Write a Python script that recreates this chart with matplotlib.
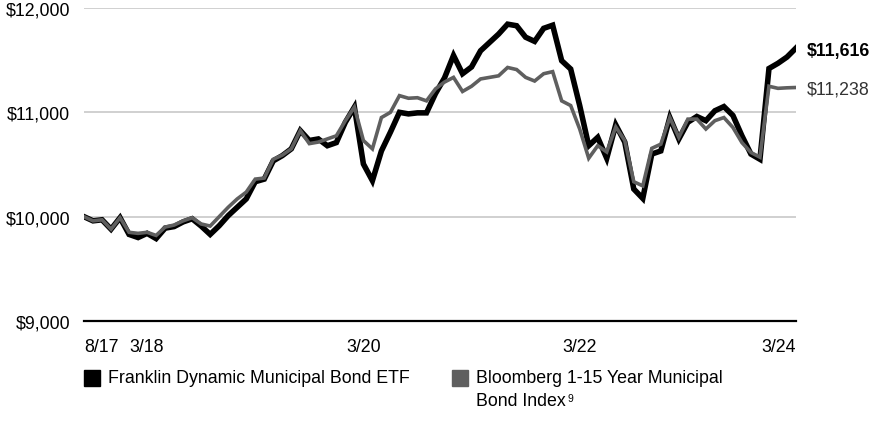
import matplotlib.pyplot as plt
from matplotlib.patches import Rectangle

# monthly growth of $10,000, 8/17 through 3/24
fund = [
    10000, 9960, 9970, 9880, 9990, 9830, 9800, 9840, 9790, 9890,
    9905, 9950, 9980, 9910, 9830, 9913, 10010, 10090, 10170, 10335,
    10360, 10535, 10585, 10650, 10825, 10730, 10745, 10680, 10710, 10905,
    11050, 10505, 10345, 10630, 10810, 11000, 10985, 10995, 10995, 11180,
    11330, 11545, 11370, 11435, 11590, 11670, 11750, 11845, 11830, 11720,
    11680, 11805, 11835, 11495, 11415, 11065, 10680, 10760, 10560, 10880,
    10715, 10265, 10175, 10600, 10630, 10950, 10745, 10905, 10960, 10920,
    11015, 11055, 10970, 10775, 10600, 10550, 11420, 11470, 11530, 11616,
]
index = [
    10000, 9960, 9970, 9880, 9990, 9850, 9840, 9850, 9820, 9900,
    9920, 9960, 9990, 9930, 9910, 10000, 10090, 10170, 10235, 10360,
    10370, 10550, 10590, 10650, 10825, 10700, 10715, 10745, 10775, 10920,
    11050, 10730, 10650, 10950, 11000, 11160, 11135, 11140, 11110, 11225,
    11290, 11335, 11200, 11250, 11320, 11335, 11350, 11430, 11410, 11335,
    11300, 11370, 11390, 11110, 11065, 10840, 10560, 10680, 10620, 10860,
    10730, 10335, 10295, 10655, 10695, 10950, 10760, 10935, 10935, 10840,
    10920, 10950, 10855, 10710, 10615, 10570, 11250, 11230, 11235, 11238,
]
tick_pos = [0, 7, 31, 55, 79]
tick_labels = ["8/17", "3/18", "3/20", "3/22", "3/24"]
y_ticks = [9000, 10000, 11000, 12000]
fund_name = "Franklin Dynamic Municipal Bond ETF"
index_name = "Bloomberg 1-15 Year Municipal\nBond Index"

FUND_C = "#000000"
INDEX_C = "#5f5f5f"
W, H = 876, 427
FS = 12.8

plt.rcParams['font.family'] = ['Liberation Sans', 'DejaVu Sans']

fig = plt.figure(figsize=(W / 100, H / 100), dpi=100)
ax = fig.add_axes([84 / W, 1 - 322 / H, (796 - 84) / W, (322 - 9) / H])

x = list(range(len(fund)))
ax.plot(x, fund, color=FUND_C, lw=4.0, solid_joinstyle='miter', zorder=3)
ax.plot(x, index, color=INDEX_C, lw=2.6, solid_joinstyle='miter', zorder=4)

ax.set_xlim(0, len(fund) - 1)
ax.set_ylim(9000, 12000)
for y in y_ticks[1:]:
    ax.axhline(y, color='#c8c8c8', lw=1.2, zorder=1)
ax.axhline(9000, color='black', lw=1.6, zorder=2, clip_on=False)

for s in ax.spines.values():
    s.set_visible(False)

ax.set_yticks(y_ticks)
ax.set_yticklabels([f"${v:,}" for v in y_ticks], fontsize=FS)
ax.set_xticks(tick_pos)
ax.set_xticklabels(tick_labels, fontsize=FS)
ax.tick_params(length=0)
ax.tick_params(axis='y', pad=10)
ax.tick_params(axis='x', pad=12)
xl = ax.get_xticklabels()
xl[0].set_ha('left')
xl[-1].set_ha('right')

# ending values
ax.annotate(f"${fund[-1]:,}", xy=(x[-1], fund[-1]), xytext=(8, -2),
            textcoords='offset points', va='center', ha='left',
            fontsize=FS, fontweight='bold', color=FUND_C, annotation_clip=False)
ax.annotate(f"${index[-1]:,}", xy=(x[-1], index[-1]), xytext=(8, -1),
            textcoords='offset points', va='center', ha='left',
            fontsize=FS, color='#333333', annotation_clip=False)

# legend
def px(xp, yp):
    return xp / W, 1 - yp / H

for (x0, col) in [(84, FUND_C), (452, INDEX_C)]:
    fig.patches.append(Rectangle(px(x0, 387), 16 / W, 16 / H,
                                 transform=fig.transFigure, color=col))
fig.text(*px(108, 379), fund_name, fontsize=FS, va='center', ha='left')
fig.text(*px(476, 379), index_name.split("\n")[0], fontsize=FS, va='center', ha='left')
t = fig.text(*px(476, 402), index_name.split("\n")[1], fontsize=FS, va='center', ha='left')
fig.canvas.draw()
bb = t.get_window_extent()
fig.text((bb.x1 + 2) / W, (bb.y1 - 6) / H, "9", fontsize=7.5, va='center', ha='left')

fig.savefig("out.png", dpi=100)
